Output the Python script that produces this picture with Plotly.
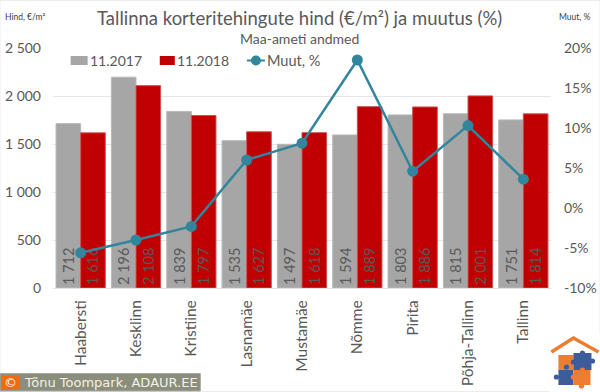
import plotly.graph_objects as go

categories = ["Haabersti", "Kesklinn", "Kristiine", "Lasnamäe", "Mustamäe", "Nõmme", "Pirita", "Põhja-Tallinn", "Tallinn"]
values_2017 = [1712, 2196, 1839, 1535, 1497, 1594, 1803, 1815, 1751]
values_2018 = [1616, 2108, 1797, 1627, 1618, 1889, 1886, 2001, 1814]
change_pct = [-5.6, -4.0, -2.3, 6.0, 8.1, 18.5, 4.6, 10.3, 3.6]
left_ticks = [0, 500, 1000, 1500, 2000, 2500]
left_labels = ["0", "500", "1 000", "1 500", "2 000", "2 500"]
right_ticks = [-10, -5, 0, 5, 10, 15, 20]
right_labels = ["-10%", "-5%", "0%", "5%", "10%", "15%", "20%"]

W, H = 600, 392
L, R, T, B = 53.4, 550.6, 48, 288
FONT = "Lato"
GREY = "#595959"
GREY_BAR, RED_BAR, TEAL = "#a6a6a6", "#c00000", "#31859c"
px = lambda x: (x - L) / (R - L)
py = lambda y: (B - y) / (B - T)
fmt = lambda vs: [f"{v:,}".replace(",", " ") for v in vs]

fig = go.Figure()
for name, vals, col, edge in [("11.2017", values_2017, GREY_BAR, "#b8b8b8"),
                              ("11.2018", values_2018, RED_BAR, "#cc5050")]:
    fig.add_trace(go.Bar(
        name=name, x=categories, y=vals, marker=dict(color=col, line=dict(color=edge, width=1)),
        text=fmt(vals), textposition="inside", insidetextanchor="start", textangle=-90,
        textfont=dict(family=FONT, size=14.5, color=GREY), constraintext="none", cliponaxis=False,
        showlegend=False,
    ))
fig.add_trace(go.Scatter(
    name="Muut, %", x=categories, y=change_pct, yaxis="y2", mode="lines+markers",
    line=dict(color=TEAL, width=2.5), marker=dict(color=TEAL, size=11), showlegend=False,
))


def rect(x0, y0, x1, y1, fill, layer="above", line=None):
    return dict(type="rect", xref="paper", yref="paper", x0=px(x0), x1=px(x1), y0=py(y0), y1=py(y1),
                fillcolor=fill, line=dict(color=line or fill, width=1 if line else 0), layer=layer)


def dot(cx, cy, fill, r=2.6):
    return rect(cx - r, cy - r, cx + r, cy + r, fill) | {"type": "circle"}


ORANGE, BLUE = "#ed7d31", "#3f5c9a"
shapes = [
    # faint outer frame
    rect(0.5, 0.5, 599.5, 391.5, "rgba(0,0,0,0)", layer="below", line="#ececec"),
    # white panel behind the title block that hides the top gridline
    rect(95, 40, 505, 54, "white", layer="between"),
    # legend keys
    rect(71, 56, 88, 65, GREY_BAR),
    rect(160, 56, 175, 65, RED_BAR),
    dict(type="line", xref="paper", yref="paper", x0=px(247), x1=px(265), y0=py(60.5), y1=py(60.5),
         line=dict(color=TEAL, width=2), layer="above"),
    dot(256, 60.5, TEAL, r=5),
    # copyright strip
    rect(0.5, 373.5, 200.5, 391, "#8b8e7b", line="#a8a8a8"),
    rect(2, 376, 20, 389, "#f26a10"),
    # logo
    rect(549, 333, 600, 392, "white"),
    dict(type="path", xref="paper", yref="paper",
         path=f"M {px(551)} {py(352)} L {px(573)} {py(338)} L {px(598)} {py(352)}",
         line=dict(color=ORANGE, width=3.5), layer="above"),
    rect(558, 355, 573, 370, ORANGE),
    rect(573, 353, 591, 370, BLUE),
    rect(558, 370, 573, 385, BLUE),
    rect(573, 370, 590, 385, ORANGE),
    dot(566, 367, BLUE), dot(573, 362, BLUE), dot(582, 353, BLUE), dot(592, 361, BLUE),
    dot(556, 377, BLUE), dot(573, 377, ORANGE), dot(582, 370, ORANGE), dot(581, 386, ORANGE),
]

annotations = [
    dict(text="Tallinna korteritehingute hind (€/m²) ja muutus (%)", x=px(300), y=py(18),
         font=dict(size=18.5, color=GREY, family=FONT)),
    dict(text="Maa-ameti andmed", x=px(300), y=py(39), font=dict(size=14, color=GREY, family=FONT)),
    dict(text="Hind, €/m²", x=px(26), y=py(17), font=dict(size=8.5, color="#404040", family=FONT)),
    dict(text="Muut, %", x=px(574), y=py(17), font=dict(size=8.5, color="#404040", family=FONT)),
    dict(text="11.2017", x=px(88), y=py(60), xanchor="left", font=dict(size=14, color=GREY, family=FONT)),
    dict(text="11.2018", x=px(175), y=py(60), xanchor="left", font=dict(size=14, color=GREY, family=FONT)),
    dict(text="Muut, %", x=px(265), y=py(60), xanchor="left", font=dict(size=14.5, color=GREY, family=FONT)),
    dict(text="©", x=px(11), y=py(382.5), font=dict(size=13, color="white", family="DejaVu Sans")),
    dict(text="Tõnu Toompark, ADAUR.EE", x=px(22), y=py(382.5), xanchor="left",
         font=dict(size=13, color="#f2f2e8", family="DejaVu Sans")),
]
for a in annotations:
    a.update(xref="paper", yref="paper", showarrow=False, xanchor=a.get("xanchor", "center"), yanchor="middle")

fig.update_layout(
    width=W, height=H, autosize=False, paper_bgcolor="white", plot_bgcolor="white",
    margin=dict(l=L, r=W - R, t=T, b=H - B, pad=0, autoexpand=False),
    barmode="group", bargap=0.11, bargroupgap=0,
    font=dict(family=FONT, color=GREY, size=14),
    xaxis=dict(type="category", range=[-0.5, 8.5], tickangle=-90, showgrid=False, showline=True,
               linecolor="#e3e3e3", ticks="", ticklabelstandoff=5, automargin=False,
               tickfont=dict(size=15.5, color=GREY, family=FONT)),
    yaxis=dict(range=[0, 2500], tickvals=left_ticks, ticktext=left_labels, gridcolor="#e6e6e6",
               zeroline=False, showline=False, ticks="", ticklabelstandoff=11, automargin=False,
               tickfont=dict(size=14, color=GREY, family=FONT)),
    yaxis2=dict(range=[-10, 20], tickvals=right_ticks, ticktext=right_labels, overlaying="y", side="right",
                showgrid=False, zeroline=False, showline=False, ticks="", ticklabelstandoff=12, automargin=False,
                tickfont=dict(size=14, color=GREY, family=FONT)),
    shapes=shapes, annotations=annotations, showlegend=False,
)
fig.write_html("out.html", config={"displayModeBar": False},
               post_script="document.body.style.margin='0';document.documentElement.style.overflow='hidden';")
